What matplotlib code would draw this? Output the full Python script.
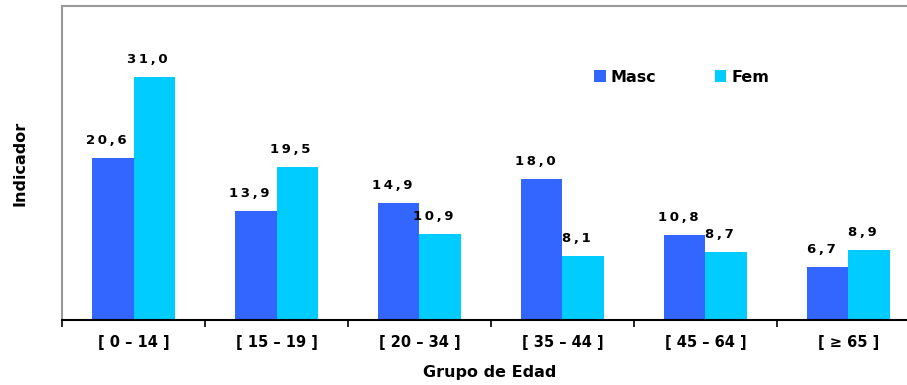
import matplotlib
matplotlib.use("Agg")
import matplotlib.pyplot as plt
import numpy as np

grupos = ["[ 0 \u2013 14 ]", "[ 15 \u2013 19 ]", "[ 20 \u2013 34 ]",
          "[ 35 \u2013 44 ]", "[ 45 \u2013 64 ]", "[ \u2265 65 ]"]
masc = [20.6, 13.9, 14.9, 18.0, 10.8, 6.7]
fem = [31.0, 19.5, 10.9, 8.1, 8.7, 8.9]

c_masc = "#3366FF"
c_fem = "#00CCFF"

fig = plt.figure(figsize=(9.07, 3.85), dpi=100)
ax = fig.add_axes([62 / 907, 65 / 385, 858 / 907, 314 / 385])

x = np.arange(len(grupos))
w = 0.287
b1 = ax.bar(x - w / 2, masc, w, color=c_masc, label="Masc")
b2 = ax.bar(x + w / 2, fem, w, color=c_fem, label="Fem")


def etiqueta(v):
    s = ("%.1f" % v).replace(".", ",")
    return "\u2009".join(s)


for bars, vals in ((b1, masc), (b2, fem)):
    for r, v in zip(bars, vals):
        ax.annotate(etiqueta(v), (r.get_x() + r.get_width() / 2, v),
                    xytext=(-5, 8), textcoords="offset points",
                    ha="center", va="bottom", fontsize=9.5, fontweight="bold")

ax.set_xlim(-0.5, 5.5)
ax.set_ylim(0, 40)
ax.set_yticks([])

ax.set_xticks(np.arange(-0.5, 6, 1))
ax.set_xticklabels([])
ax.set_xticks(x, minor=True)
ax.set_xticklabels(grupos, minor=True, fontsize=10.5, fontweight="bold")
ax.tick_params(axis="x", which="minor", length=0, pad=11)
ax.tick_params(axis="x", which="major", length=5, width=1.2, direction="out")

for s in ("left", "top", "right"):
    ax.spines[s].set_color("#999999")
    ax.spines[s].set_linewidth(1.5)
ax.spines["bottom"].set_color("black")
ax.spines["bottom"].set_linewidth(1.5)

ax.set_xlabel("Grupo de Edad", fontsize=11.5, fontweight="bold", va="center")
ax.xaxis.set_label_coords((490 - 62) / 858, -52 / 314)
ax.set_ylabel("Indicador", fontsize=11.5, fontweight="bold", va="center")
ax.yaxis.set_label_coords(-42 / 858, 0.5)

ax.legend(loc="center left", bbox_to_anchor=(580 / 907, 1 - 77 / 385),
          bbox_transform=fig.transFigure, ncol=2, frameon=False,
          handlelength=0.7, handleheight=0.7, handletextpad=0.3,
          columnspacing=3.7, prop={"size": 11.5, "weight": "bold"})

fig.savefig("out.png", dpi=100)
